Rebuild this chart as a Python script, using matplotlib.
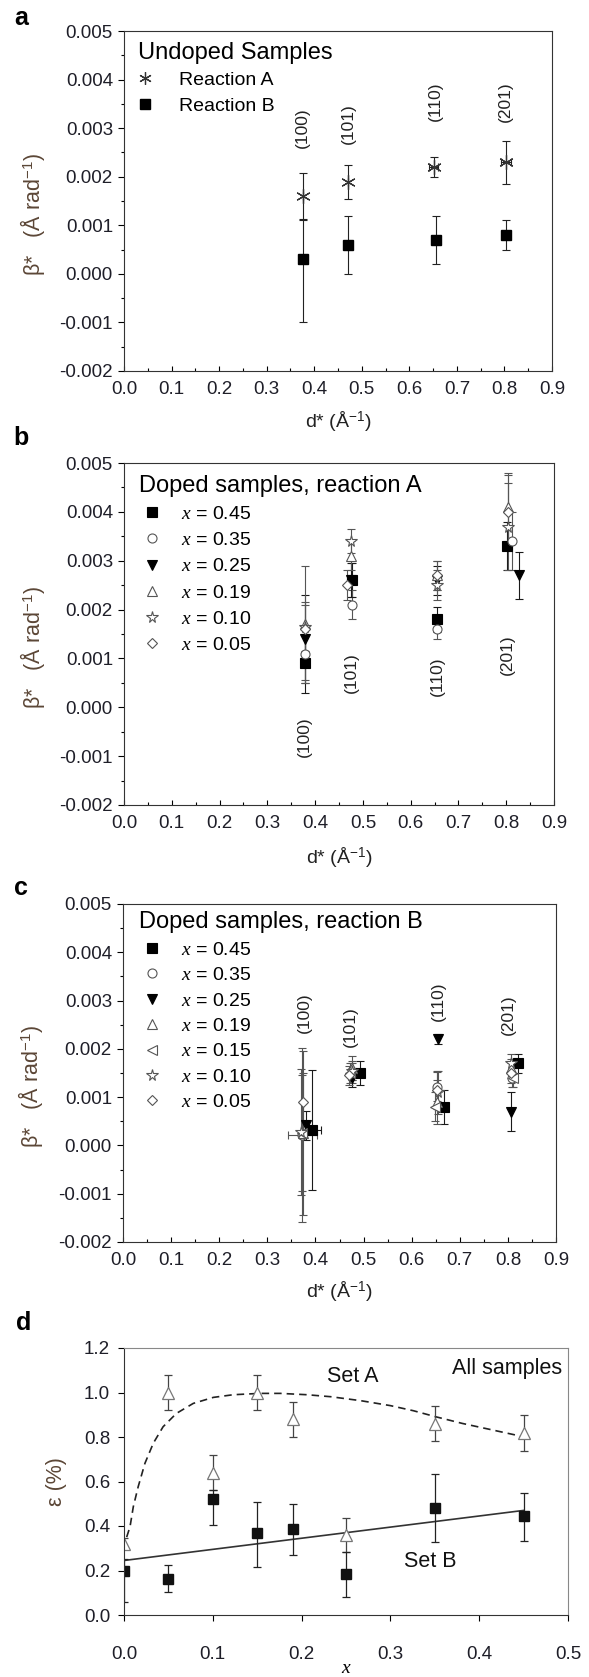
import matplotlib
matplotlib.use('Agg')
import matplotlib.pyplot as plt
from matplotlib.lines import Line2D
from matplotlib.ticker import MultipleLocator, FormatStrFormatter

plt.rcParams['font.family'] = ['Liberation Sans', 'DejaVu Sans']
plt.rcParams['mathtext.fontset'] = 'custom'
plt.rcParams['mathtext.rm'] = 'Liberation Sans'
plt.rcParams['mathtext.it'] = 'Liberation Serif:italic'
plt.rcParams['mathtext.sf'] = 'Liberation Sans'

# ---- panel a: undoped samples ----
refl_names = ['(100)', '(101)', '(110)', '(201)']
a_label_x = [0.376, 0.472, 0.655, 0.802]
a_label_y = [0.0030, 0.0031, 0.00355, 0.00355]

a_A_x = [0.376, 0.472, 0.651, 0.803]
a_A_y = [0.0016, 0.0019, 0.0022, 0.0023]
a_A_err = [0.00048, 0.00035, 0.0002, 0.00044]
a_A_xerr = [0.0, 0.0, 0.01, 0.01]

a_B_x = [0.376, 0.472, 0.657, 0.803]
a_B_y = [0.0003, 0.0006, 0.0007, 0.0008]
a_B_lo = [0.0013, 0.0006, 0.0005, 0.0003]
a_B_hi = [0.0008, 0.0006, 0.0005, 0.0003]

# ---- panel b: doped, reaction A ----
b_conc = ['0.45', '0.35', '0.25', '0.19', '0.10', '0.05']
b_label_x = [0.378, 0.476, 0.655, 0.802]
b_label_y = [-0.0006, 0.0007, 0.00063, 0.00107]
b_x = [[0.378, 0.477, 0.656, 0.801],
       [0.378, 0.478, 0.655, 0.812],
       [0.378, 0.476, 0.655, 0.826],
       [0.378, 0.476, 0.655, 0.803],
       [0.378, 0.476, 0.655, 0.803],
       [0.378, 0.466, 0.655, 0.803]]
b_y = [[0.0009, 0.0026, 0.0018, 0.0033],
       [0.0011, 0.0021, 0.0016, 0.0034],
       [0.0014, 0.0026, 0.0026, 0.0027],
       [0.0017, 0.0031, 0.0027, 0.0041],
       [0.00165, 0.0034, 0.0025, 0.0037],
       [0.0016, 0.0025, 0.0027, 0.0040]]
b_err = [[0.0006, 0.00035, 0.00025, 0.0005],
         [0.00055, 0.0003, 0.0002, 0.0006],
         [0.0009, 0.00035, 0.0003, 0.00048],
         [0.0012, 0.0003, 0.0003, 0.0007],
         [0.0005, 0.00025, 0.0003, 0.0009],
         [0.0005, 0.0003, 0.0003, 0.00075]]

# ---- panel c: doped, reaction B ----
c_conc = ['0.45', '0.35', '0.25', '0.19', '0.15', '0.10', '0.05']
c_label_x = [0.378, 0.473, 0.655, 0.80]
c_label_y = [0.00274, 0.00247, 0.00299, 0.00271]
c_x = [[0.392, 0.493, 0.667, 0.822],
       [0.373, 0.475, 0.652, 0.808],
       [0.380, 0.475, 0.655, 0.806],
       [0.375, 0.475, 0.652, 0.806],
       [0.372, 0.472, 0.648, 0.810],
       [0.370, 0.475, 0.655, 0.806],
       [0.375, 0.470, 0.652, 0.806]]
c_y = [[0.00032, 0.0015, 0.0008, 0.0017],
       [0.00022, 0.0015, 0.00122, 0.0014],
       [0.00042, 0.0014, 0.0022, 0.0007],
       [0.00025, 0.0016, 0.0009, 0.0016],
       [0.00026, 0.0015, 0.0008, 0.0014],
       [0.00028, 0.00155, 0.0011, 0.0017],
       [0.0009, 0.00145, 0.00115, 0.0015]]
c_err = [[0.00125, 0.00025, 0.00035, 0.0002],
         [0.0018, 0.0002, 0.0003, 0.0002],
         [0.0003, 0.0002, 0.0001, 0.0004],
         [0.0017, 0.00025, 0.00045, 0.0002],
         [0.0012, 0.0002, 0.0003, 0.0002],
         [0.0013, 0.0002, 0.00045, 0.0002],
         [0.0006, 0.0002, 0.0004, 0.0002]]
c_xerr = [[0.02, 0, 0, 0],
          [0.03, 0, 0, 0],
          [0, 0, 0, 0],
          [0, 0, 0, 0],
          [0, 0, 0, 0],
          [0, 0, 0, 0],
          [0, 0, 0, 0]]

# ---- panel d: strain vs x ----
d_x = [0.0, 0.05, 0.10, 0.15, 0.19, 0.25, 0.35, 0.45]
setA_y = [0.32, 1.0, 0.64, 1.0, 0.88, 0.36, 0.86, 0.82]
setA_err = [0.025, 0.078, 0.079, 0.08, 0.079, 0.078, 0.08, 0.081]
setB_y = [0.20, 0.162, 0.521, 0.367, 0.385, 0.184, 0.482, 0.443]
setB_lo = [0.14, 0.057, 0.118, 0.15, 0.115, 0.102, 0.153, 0.111]
setB_hi = [0.05, 0.063, 0.043, 0.142, 0.112, 0.097, 0.15, 0.106]
curveA_x = [0.003, 0.0068, 0.0105, 0.016, 0.0236, 0.033, 0.044, 0.059, 0.078,
            0.1006, 0.123, 0.153, 0.176, 0.206, 0.233, 0.267, 0.30, 0.326,
            0.351, 0.381, 0.411, 0.45]
curveA_y = [0.35, 0.397, 0.487, 0.577, 0.682, 0.772, 0.846, 0.906, 0.951,
            0.978, 0.99, 0.996, 0.996, 0.99, 0.981, 0.963, 0.941, 0.918,
            0.891, 0.861, 0.835, 0.801]
fitB_x = [0.0, 0.45]
fitB_y = [0.245, 0.47]

markers = {'0.45': ('s', 'black', 'black', 6.5),
           '0.35': ('o', 'white', '#555555', 6.5),
           '0.25': ('v', 'black', 'black', 7.5),
           '0.19': ('^', 'white', '#555555', 7.5),
           '0.15': ('<', 'white', '#555555', 7.5),
           '0.10': ('*', 'white', '#555555', 8.5),
           '0.05': ('D', 'white', '#555555', 5.5)}

W, H = 589, 1677
TICK_COLOR = '#1e1e28'
YLAB_COLOR = '#5b4636'


def fig_rect(left, right, top, bottom):
    return [left / W, 1 - bottom / H, (right - left) / W, (bottom - top) / H]


def style_beta_axes(ax):
    ax.set_xlim(0, 0.9)
    ax.set_ylim(-0.002, 0.005)
    ax.xaxis.set_major_locator(MultipleLocator(0.1))
    ax.xaxis.set_minor_locator(MultipleLocator(0.05))
    ax.yaxis.set_major_locator(MultipleLocator(0.001))
    ax.yaxis.set_minor_locator(MultipleLocator(0.0005))
    ax.xaxis.set_major_formatter(FormatStrFormatter('%.1f'))
    ax.yaxis.set_major_formatter(FormatStrFormatter('%.3f'))
    ax.tick_params(axis='y', which='major', direction='out', length=4, width=0.8,
                   pad=4, labelsize=13.5, labelcolor=TICK_COLOR)
    ax.tick_params(axis='y', which='minor', direction='out', length=2.5, width=0.8)
    ax.tick_params(axis='x', which='major', direction='in', length=3.5, width=0.8,
                   pad=7.5, labelsize=13.5, labelcolor=TICK_COLOR)
    ax.tick_params(axis='x', which='minor', direction='in', length=2.5, width=0.8)
    for s in ax.spines.values():
        s.set_linewidth(0.8)
        s.set_color('#333333')
    ax.set_xlabel('d* (Å$^{-1}$)', fontsize=14, color='#222222')
    ax.set_ylabel('β*   (Å rad$^{-1}$)', fontsize=15.5, color=YLAB_COLOR)
    ax.yaxis.set_label_coords(-0.18, 0.46)


def refl_labels(ax, xs, ys):
    for name, x, y in zip(refl_names, xs, ys):
        ax.text(x, y, name, rotation=90, ha='center', va='center', fontsize=12.5,
                color='#222222')


fig = plt.figure(figsize=(W / 100, H / 100), dpi=100)

# ---------------- a ----------------
ax = fig.add_axes(fig_rect(124, 552, 31, 371))
style_beta_axes(ax)
ax.xaxis.set_label_coords(0.5, -0.112)
ax.errorbar(a_A_x, a_A_y, yerr=a_A_err, xerr=a_A_xerr, fmt='none', ecolor='#222222',
            elinewidth=0.8, capsize=3, capthick=0.8)
ax.plot(a_A_x, a_A_y, ls='none', marker=(6, 2, 0), ms=10.5, mec='#333333', mew=0.9)
ax.errorbar(a_B_x, a_B_y, yerr=[a_B_lo, a_B_hi], fmt='s', ms=7.5, mfc='black', mec='black',
            ecolor='#222222', elinewidth=0.8, capsize=3, capthick=0.8)
refl_labels(ax, a_label_x, a_label_y)
hA = Line2D([], [], ls='none', marker=(6, 2, 0), ms=9, mec='#333333', mew=0.9)
hB = Line2D([], [], ls='none', marker='s', ms=6.5, mfc='black', mec='black')
ax.legend([hA, hB], ['Reaction A', 'Reaction B'], title='Undoped Samples',
          loc='upper left', bbox_to_anchor=(0.033, 0.968), frameon=False, fontsize=14,
          title_fontsize=17, alignment='left', handlelength=0.75, handletextpad=1.35,
          labelspacing=0.4, borderpad=0, borderaxespad=0)
fig.text(21 / W, 1 - 18 / H, 'a', fontsize=18, fontweight='bold', ha='center', va='center')


# ---------------- b / c ----------------
def doped_panel(rect, conc, xs, ys, errs, xerrs, title, lab_x, lab_y, anchor, lab_y_coord,
                spacing):
    ax = fig.add_axes(rect)
    style_beta_axes(ax)
    ax.xaxis.set_label_coords(0.5, lab_y_coord)
    handles = []
    for i, cval in enumerate(conc):
        m, fc, ec, ms = markers[cval]
        xe = xerrs[i] if xerrs is not None else None
        ax.errorbar(xs[i], ys[i], yerr=errs[i], xerr=xe, fmt=m, ms=ms, mfc=fc, mec=ec,
                    mew=0.8, ecolor='#1a1a1a' if fc == 'black' else '#555555',
                    elinewidth=0.8, capsize=3, capthick=0.8)
        handles.append(Line2D([], [], ls='none', marker=m, ms=ms, mfc=fc, mec=ec, mew=0.8))
    refl_labels(ax, lab_x, lab_y)
    labels = [r'$\mathit{x}$ = ' + cval for cval in conc]
    ax.legend(handles, labels, title=title, loc='upper left', bbox_to_anchor=anchor,
              frameon=False, fontsize=14, title_fontsize=17, alignment='left',
              handlelength=1.3, handletextpad=0.85, labelspacing=spacing, borderpad=0,
              borderaxespad=0)
    return ax


doped_panel(fig_rect(124, 554, 463, 805), b_conc, b_x, b_y, b_err, None,
            'Doped samples, reaction A', b_label_x, b_label_y, (0.035, 0.965), -0.117, 0.44)
fig.text(21 / W, 1 - 438 / H, 'b', fontsize=18, fontweight='bold', ha='center', va='center')

doped_panel(fig_rect(123, 556, 904, 1242), c_conc, c_x, c_y, c_err, c_xerr,
            'Doped samples, reaction B', c_label_x, c_label_y, (0.038, 0.978), -0.11, 0.4)
fig.text(21 / W, 1 - 888 / H, 'c', fontsize=18, fontweight='bold', ha='center', va='center')

# ---------------- d ----------------
ax = fig.add_axes(fig_rect(124, 568, 1348, 1615))
ax.set_xlim(0, 0.5)
ax.set_ylim(0, 1.2)
ax.xaxis.set_major_locator(MultipleLocator(0.1))
ax.yaxis.set_major_locator(MultipleLocator(0.2))
ax.xaxis.set_major_formatter(FormatStrFormatter('%.1f'))
ax.yaxis.set_major_formatter(FormatStrFormatter('%.1f'))
ax.tick_params(axis='both', direction='out', length=4, width=0.8, labelsize=13.5,
               labelcolor=TICK_COLOR)
ax.tick_params(axis='x', pad=18)
ax.tick_params(axis='y', pad=6)
for side, s in ax.spines.items():
    s.set_linewidth(0.8)
    s.set_color('#333333' if side in ('left', 'bottom') else '#888888')

ax.plot(curveA_x, curveA_y, color='#222222', lw=1.2, dashes=(4.5, 3))
ax.plot(fitB_x, fitB_y, color='#333333', lw=1.2)
ax.errorbar(d_x, setA_y, yerr=setA_err, fmt='^', ms=8, mfc='white', mec='#777777',
            mew=0.9, ecolor='#444444', elinewidth=0.9, capsize=3, capthick=0.9)
ax.errorbar(d_x, setB_y, yerr=[setB_lo, setB_hi], fmt='s', ms=7.5, mfc='#111111',
            mec='#111111', ecolor='#222222', elinewidth=0.9, capsize=3, capthick=0.9)
ax.text(0.258, 1.074, 'Set A', fontsize=15.5, ha='center', va='center', color='#111111')
ax.text(0.345, 0.24, 'Set B', fontsize=15.5, ha='center', va='center', color='#111111')
ax.text(0.493, 1.11, 'All samples', fontsize=15.5, ha='right', va='center', color='#111111')
ax.set_xlabel('x', fontsize=14, fontfamily='Liberation Serif', fontstyle='italic')
ax.xaxis.set_label_coords(0.5, -0.168)
ax.set_ylabel('ε (%)', fontsize=15.5, color=YLAB_COLOR)
ax.yaxis.set_label_coords(-0.128, 0.5)
fig.text(24 / W, 1 - 1323 / H, 'd', fontsize=18, fontweight='bold', ha='center', va='center')

fig.savefig('out.png', dpi=100)
